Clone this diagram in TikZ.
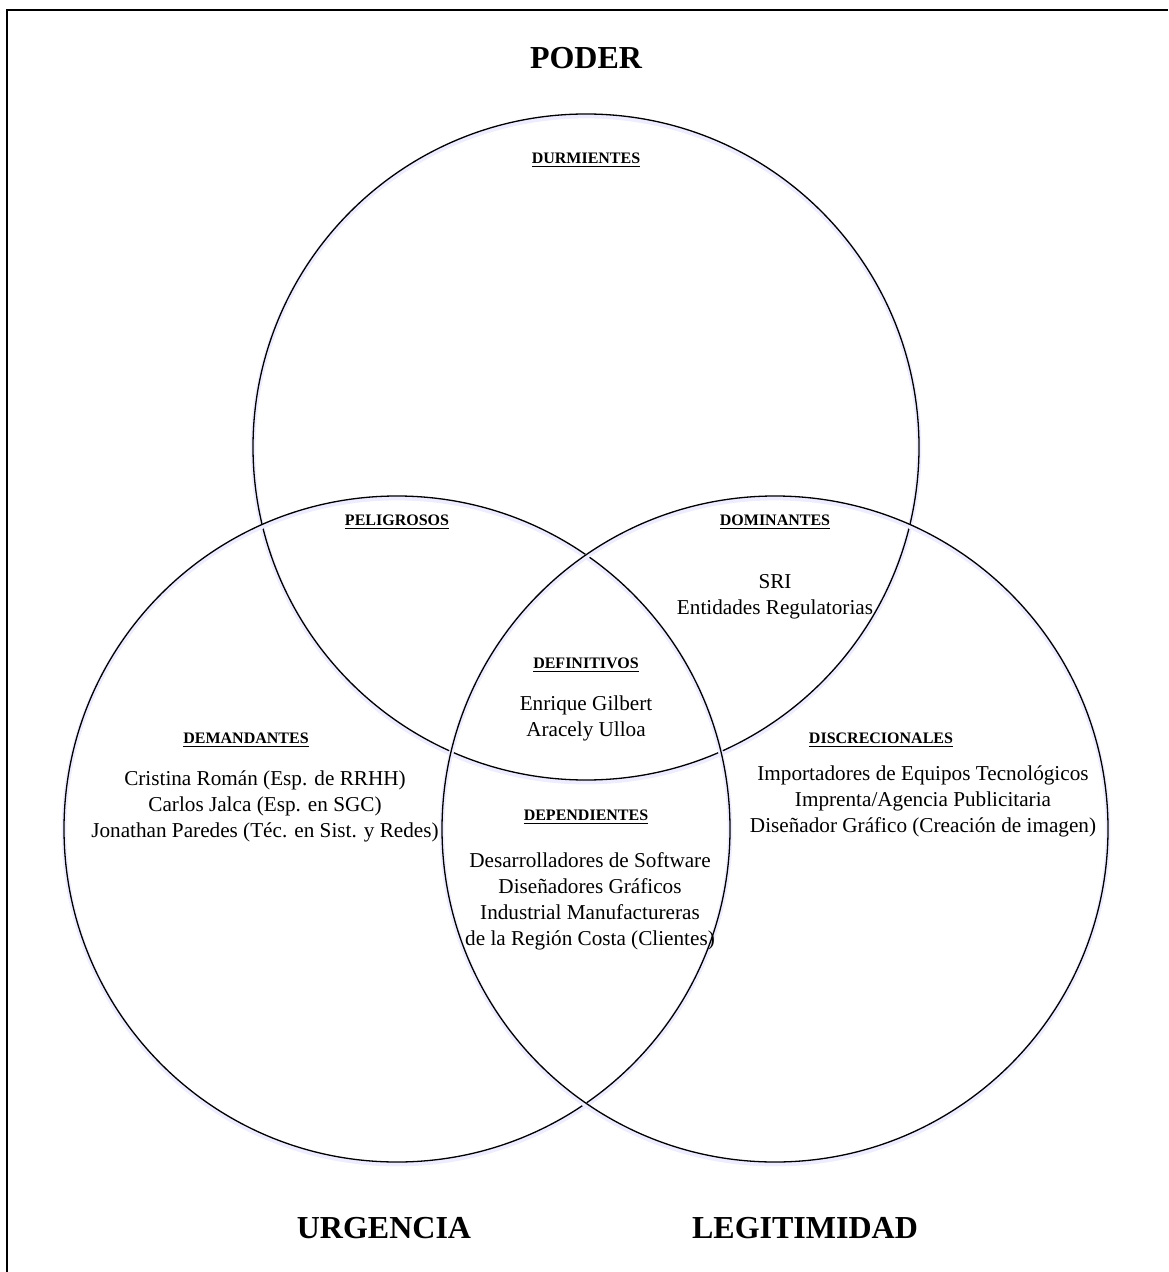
\documentclass[tikz,border=0pt]{standalone}
\usepackage{fontspec}
\setmainfont{Liberation Serif}
\begin{document}
\begin{tikzpicture}[x=0.5pt,y=-0.5pt]
\tikzset{
  conjunto/.style={circle, draw, line width=0.65pt, minimum size=333pt, inner sep=0pt,
    preaction={draw=blue!7, line width=2.4pt, transform canvas={yshift=-1pt}}},
  titulo/.style={font=\fontsize{16}{19}\selectfont\bfseries},
  grupo/.style={font=\fontsize{8}{10}\selectfont\bfseries},
  lista/.style={font=\fontsize{10.6}{13}\selectfont, align=center}
}
\useasboundingbox (0,0) rectangle (1168,1272);
\draw[line width=1pt] (1168,10) -- (7,10) -- (7,1272);

% tres conjuntos
\node[conjunto] (cpoder) at (586,447) {};
\node[conjunto] (curgencia) at (397,829) {};
\node[conjunto] (clegitimidad) at (775,829) {};

\node[titulo] (tpoder) at (586,58) {PODER};
\node[titulo] (turgencia) at (384,1228) {URGENCIA};
\node[titulo] (tlegitimidad) at (805,1228) {LEGITIMIDAD};

% grupos
\node[grupo] (durmientes) at (586,160) {\underline{DURMIENTES}};
\node[grupo] (peligrosos) at (397,522) {\underline{PELIGROSOS}};
\node[grupo] (dominantes) at (775,522) {\underline{DOMINANTES}};
\node[grupo] (definitivos) at (586,665) {\underline{DEFINITIVOS}};
\node[grupo] (demandantes) at (246,740) {\underline{DEMANDANTES}};
\node[grupo] (discrecionales) at (881,740) {\underline{DISCRECIONALES}};
\node[grupo] (dependientes) at (586,817) {\underline{DEPENDIENTES}};

% integrantes
\node[lista] (ldominantes) at (775,597) {SRI\\Entidades Regulatorias};
\node[lista] (ldefinitivos) at (586,718) {Enrique Gilbert\\Aracely Ulloa};
\node[lista] (ldemandantes) at (265,806) {Cristina Román (Esp. de RRHH)\\Carlos Jalca (Esp. en SGC)\\Jonathan Paredes (Téc. en Sist. y Redes)};
\node[lista] (ldiscrecionales) at (923,801) {Importadores de Equipos Tecnológicos\\Imprenta/Agencia Publicitaria\\Diseñador Gráfico (Creación de imagen)};
\node[lista] (ldependientes) at (590,901) {Desarrolladores de Software\\Diseñadores Gráficos\\Industrial Manufactureras\\de la Región Costa (Clientes)};
\end{tikzpicture}
\end{document}
